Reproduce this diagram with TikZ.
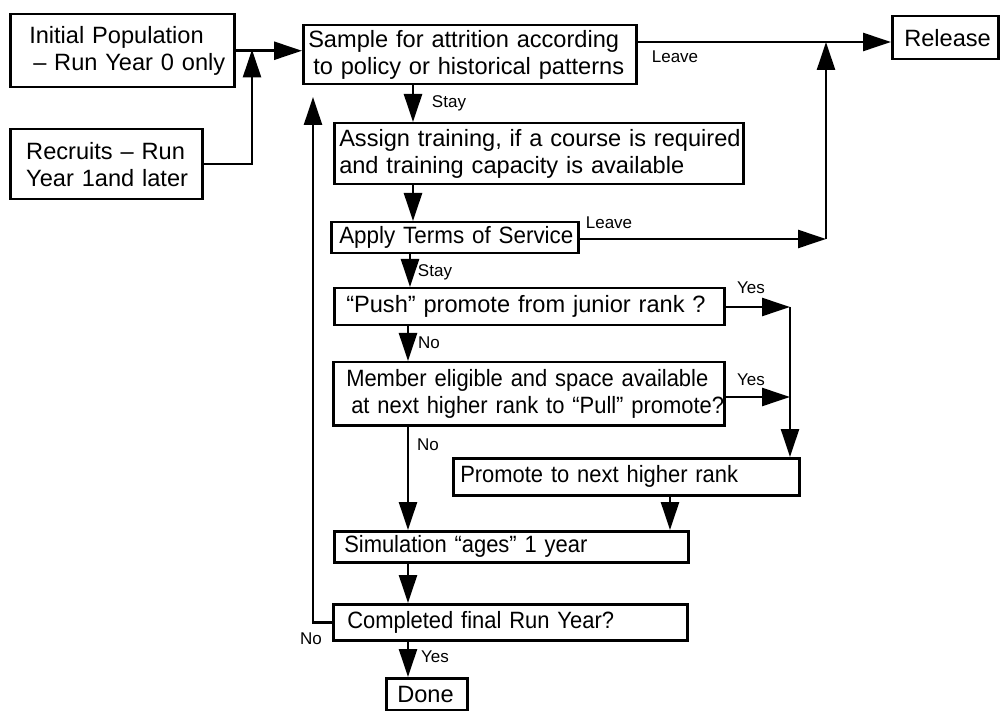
\documentclass[tikz,border=0pt]{standalone}
\usepackage{fontspec}
\setmainfont{Liberation Sans}
\newfontfamily\narrowfont[FakeStretch=0.93]{Liberation Sans}
\newfontfamily\tosfont[FakeStretch=0.95]{Liberation Sans}
\usetikzlibrary{arrows.meta, positioning}

\tikzset{
  stepbox/.style={draw, line width=2.5pt, anchor=north west, align=left, inner xsep=5pt, inner ysep=2pt, font=\fontsize{23.6}{27}\selectfont},
  narrowbox/.style={stepbox, font=\narrowfont\fontsize{23.6}{27}\selectfont},
  flow/.style={line width=2.5pt, -{Triangle[length=28pt,width=18pt]}},
  tag/.style={inner sep=0pt, font=\fontsize{17}{20}\selectfont}
}

\begin{document}
\begin{tikzpicture}[x=1pt, y=-1pt]
    \useasboundingbox (0,0) rectangle (1002,711);

    % entry boxes on the left
    \node[stepbox, text width=214pt, minimum height=73pt] (init) at (9,13) {\mbox{\hspace*{14pt}Initial Population}\\\mbox{\hspace*{18pt}– Run Year 0 only}};
    \node[stepbox, text width=182pt, minimum height=70pt] (recr) at (9,128) {\mbox{\hspace*{11pt}Recruits – Run}\\\mbox{\hspace*{11pt}Year 1and later}};

    % main column
    \node[stepbox, text width=323pt, minimum height=59pt] (sample) at (302,24) {\mbox{Sample for attrition according}\\\mbox{\hspace*{5pt}to policy or historical patterns}};
    \node[stepbox, text width=96pt, minimum height=43pt] (release) at (891,15) {\mbox{\hspace*{7pt}Release}};
    \node[stepbox, text width=399pt, minimum height=61pt] (assign) at (333,122) {\mbox{Assign training, if a course is required}\\\mbox{and training capacity is available}};
    \node[stepbox, font=\tosfont\fontsize{23.6}{27}\selectfont, text width=237pt, minimum height=31pt] (apply) at (330,221) {\mbox{\hspace*{3pt}Apply Terms of Service}};
    \node[stepbox, text width=380pt, minimum height=37pt] (push) at (333,287) {\mbox{\hspace*{7pt}“Push” promote from junior rank ?}};
    \node[narrowbox, text width=381pt, minimum height=63pt] (member) at (332,361) {\mbox{\hspace*{8pt}Member eligible and space available}\\\mbox{\hspace*{13pt}at next higher rank to “Pull” promote?}};
    \node[narrowbox, text width=336pt, minimum height=37pt] (promote) at (452,457) {\mbox{\hspace*{2pt}Promote to next higher rank}};
    \node[narrowbox, text width=344pt, minimum height=31pt] (sim) at (333,530) {\mbox{\hspace*{5pt}Simulation “ages” 1 year}};
    \node[narrowbox, text width=344pt, minimum height=36pt] (comp) at (332,603) {\mbox{\hspace*{9pt}Completed final Run Year?}};
    \node[stepbox, text width=71pt, minimum height=32pt] (done) at (385,677) {\mbox{\hspace*{6pt}Done}};

    % junction points
    \coordinate (jin) at (252,49.5);
    \coordinate (jrel) at (826,42);
    \coordinate (jtos) at (826,239);
    \coordinate (jyes) at (790,307);
    \coordinate (jpull) at (790,397);
    \coordinate (jloop) at (313,97);

    % connectors
    \draw[flow] (init.east) -- (init.east -| sample.west);
    \draw[flow] (recr.east) -| (jin);
    \draw[flow] (sample.east |- jrel) -- (release.west |- jrel);
    \draw[flow] (jtos) -- (jrel);
    \draw[flow] (apply.east |- jtos) -- (jtos);
    \draw[flow] (sample.south -| 413,0) -- (assign.north -| 413,0);
    \draw[flow] (assign.south -| 413,0) -- (apply.north -| 413,0);
    \draw[flow] (apply.south -| 410,0) -- (push.north -| 410,0);
    \draw[flow] (push.south -| 408,0) -- (member.north -| 408,0);
    \draw[flow] (push.east |- jyes) -- (jyes);
    \draw[flow] (member.east |- jpull) -- (jpull);
    \draw[flow] (jyes) -- (promote.north -| jyes);
    \draw[flow] (member.south -| 408,0) -- (sim.north -| 408,0);
    \draw[flow] (promote.south -| 670,0) -- (sim.north -| 670,0);
    \draw[flow] (sim.south -| 408,0) -- (comp.north -| 408,0);
    \draw[flow] (comp.west) -| (jloop);
    \draw[flow] (comp.south -| 408,0) -- (done.north -| 408,0);

    % labels
    \node[tag] (leave1) at (675,57) {Leave};
    \node[tag] (leave2) at (609,223) {Leave};
    \node[tag] (stay1) at (449,103) {Stay};
    \node[tag] (stay2) at (435,272) {Stay};
    \node[tag] (yes1) at (751,288) {Yes};
    \node[tag] (yes2) at (751,380) {Yes};
    \node[tag] (no1) at (429,343) {No};
    \node[tag] (no2) at (428,445) {No};
    \node[tag] (no3) at (311,639) {No};
    \node[tag] (yes3) at (435,657) {Yes};
\end{tikzpicture}
\end{document}
